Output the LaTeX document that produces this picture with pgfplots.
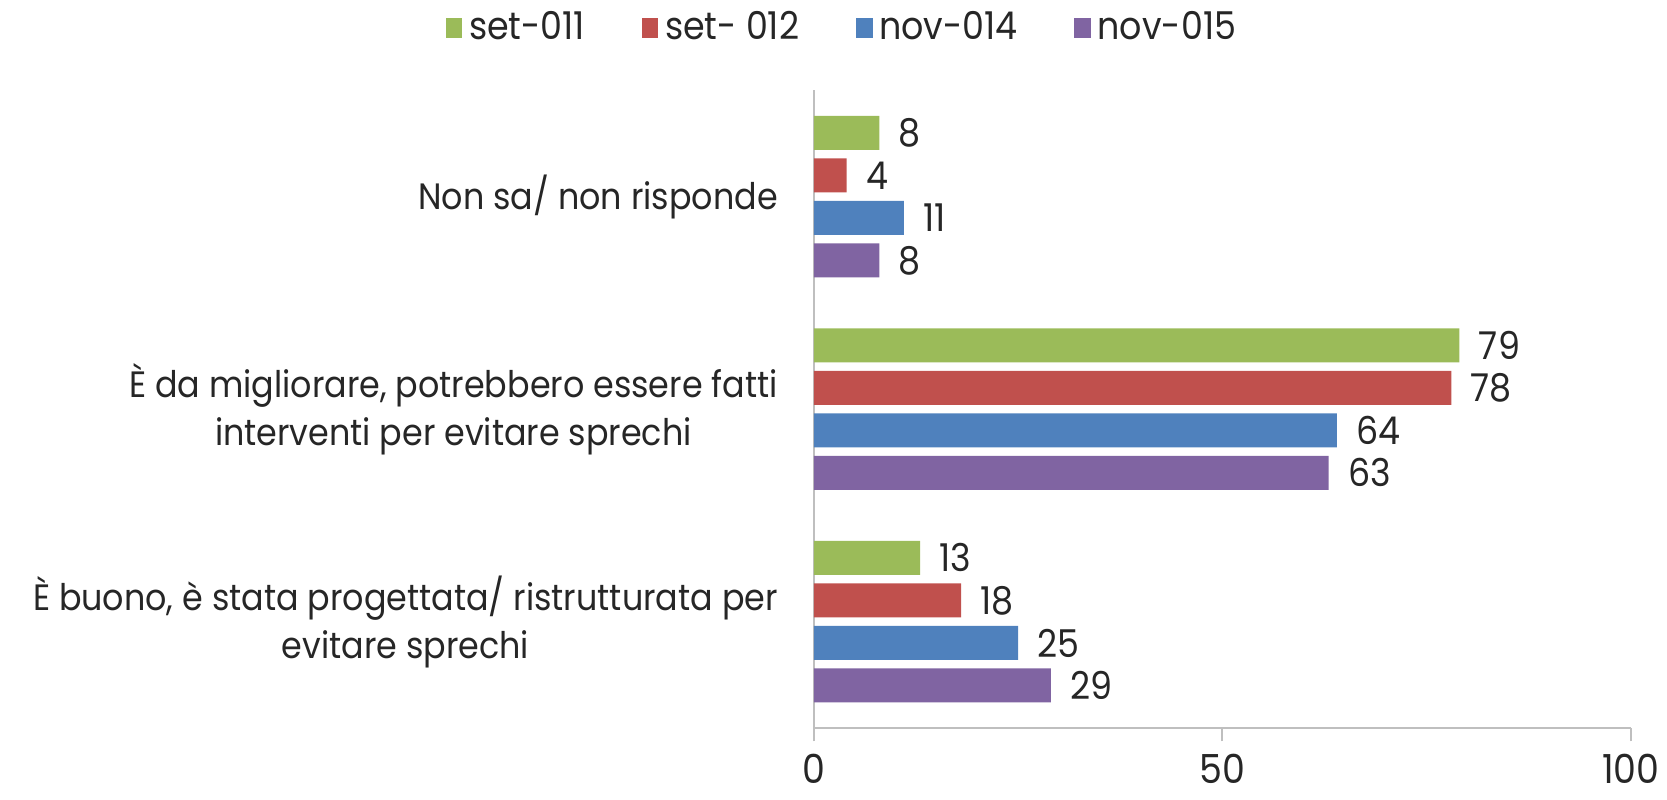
\documentclass[border=0pt]{standalone}
\usepackage{fontspec}
\setmainfont[FakeStretch=0.91]{Poppins}
\usepackage{pgfplots}
\pgfplotsset{compat=1.18}
\definecolor{cgreen}{HTML}{9BBB59}
\definecolor{cred}{HTML}{C0504D}
\definecolor{cblue}{HTML}{4F81BD}
\definecolor{cpurple}{HTML}{8064A2}
\definecolor{txt}{HTML}{262626}
\definecolor{axgray}{HTML}{BFBFBF}
\begin{document}
\fontsize{11}{14.5}\selectfont
\begin{tikzpicture}
\path[use as bounding box] (-244.2pt,-21.6pt) rectangle (255.9pt,218.4pt);
\begin{axis}[
  at={(0pt,0pt)}, anchor=south west,
  scale only axis, width=245.1pt, height=191.3pt,
  xbar, bar width=0.16,
  xmin=0, xmax=100, ymin=-0.5, ymax=2.5,
  axis lines=left, axis line style={draw=axgray, line width=0.6pt, -},
  xtick={0,50,100}, xtick align=outside, major tick length=4pt,
  xtick style={draw=axgray, line width=0.6pt},
  ytick={0,1,2}, ytick style={draw=none},
  yticklabels={{È buono, è stata progettata/ ristrutturata per\\evitare sprechi},
               {È da migliorare, potrebbero essere fatti\\interventi per evitare sprechi},
               {Non sa/ non risponde}},
  yticklabel style={align=center, xshift=-5pt, text=txt, font=\fontsize{11}{14.5}\selectfont},
  xticklabel style={yshift=0pt, text=txt, font=\fontsize{12}{14}\selectfont},
  /pgf/number format/assume math mode=true,
  nodes near coords,
  nodes near coords style={anchor=west, xshift=2pt, text=txt, font=\fontsize{11.5}{14}\selectfont},
  legend columns=4,
  legend style={draw=none, at={(0.037,1.098)}, anchor=center, font=\fontsize{11.5}{14}\selectfont, text=txt,
    /tikz/every even column/.append style={column sep=15pt}},
  legend image code/.code={\path[#1, draw=none] (0pt,-3pt) rectangle (5pt,3pt);},
]
\addplot[fill=cgreen, draw=none, bar shift=0.3] coordinates {(13,0) (79,1) (8,2)};
\addplot[fill=cred, draw=none, bar shift=0.1] coordinates {(18,0) (78,1) (4,2)};
\addplot[fill=cblue, draw=none, bar shift=-0.1] coordinates {(25,0) (64,1) (11,2)};
\addplot[fill=cpurple, draw=none, bar shift=-0.3] coordinates {(29,0) (63,1) (8,2)};
\legend{set-011, set- 012, nov-014, nov-015}
\end{axis}
\end{tikzpicture}
\end{document}
